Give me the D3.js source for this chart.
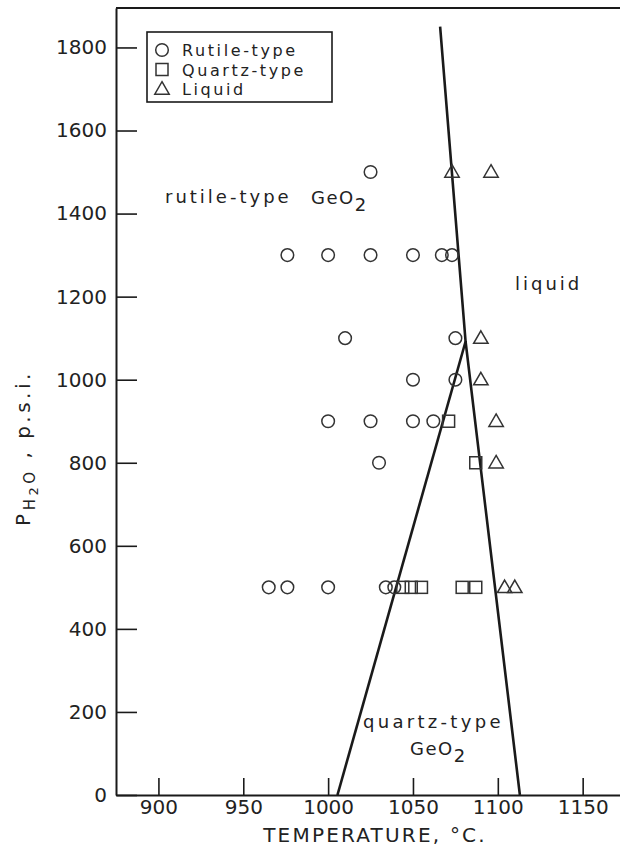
<!DOCTYPE html>
<html>
<head>
<meta charset="utf-8">
<script src="https://cdn.jsdelivr.net/npm/d3@7"></script>
<style>
  body { margin: 0; background: #fff; }
  text { font-family: "DejaVu Sans", sans-serif; fill: #222; }
</style>
</head>
<body>
<svg id="chart"></svg>
<script>
const rutileType = [
  [1025, 1500],
  [976, 1300], [1000, 1300], [1025, 1300], [1050, 1300], [1067, 1300], [1073, 1300],
  [1010, 1100], [1075, 1100],
  [1050, 1000], [1075, 1000],
  [1000, 900], [1025, 900], [1050, 900], [1062, 900],
  [1030, 800],
  [965, 500], [976, 500], [1000, 500], [1034, 500], [1039, 500]
];
const quartzType = [
  [1071, 900],
  [1087, 800],
  [1044, 500], [1049, 500], [1055, 500], [1079, 500], [1087, 500]
];
const liquid = [
  [1073, 1500], [1096, 1500],
  [1090, 1100],
  [1090, 1000],
  [1099, 900],
  [1099, 800],
  [1104, 500], [1110, 500]
];

// phase boundaries
const liquidusLine = [[1113, 0], [1081, 1092], [1066, 1850]];
const quartzRutileLine = [[1005.5, 0], [1081, 1092]];

const xTicks = [900, 950, 1000, 1050, 1100, 1150];
const yTicks = [0, 200, 400, 600, 800, 1000, 1200, 1400, 1600, 1800];
const legendLabels = ["Rutile-type", "Quartz-type", "Liquid"];

const width = 620;
const height = 848;
const margin = { top: 8, left: 116, bottom: 53 };

const svg = d3.select("#chart").attr("width", width).attr("height", height);

const xScale = d3.scaleLinear()
  .domain([875, 1172])
  .range([margin.left, width]);

const yScale = d3.scaleLinear()
  .domain([0, 1895])
  .range([height - margin.bottom, margin.top]);

const ink = "#1a1a1a";

// x axis (ticks pointing inward)
const xAxis = svg.append("g")
  .attr("transform", `translate(0, ${yScale(0)})`)
  .call(d3.axisBottom(xScale).tickValues(xTicks).tickFormat(d3.format("d"))
    .tickSize(-17).tickSizeOuter(0).tickPadding(5));

// y axis
const yAxis = svg.append("g")
  .attr("transform", `translate(${margin.left}, 0)`)
  .call(d3.axisLeft(yScale).tickValues(yTicks).tickFormat(d3.format("d"))
    .tickSize(-21).tickSizeOuter(0).tickPadding(9));

[xAxis, yAxis].forEach((g) => {
  g.select(".domain").attr("stroke", ink).attr("stroke-width", 2);
  g.selectAll(".tick line").attr("stroke", ink).attr("stroke-width", 1.6);
  g.selectAll(".tick text")
    .attr("font-family", "DejaVu Sans, sans-serif")
    .attr("font-size", 20)
    .attr("fill", "#222");
});

// top frame
svg.append("line")
  .attr("x1", margin.left).attr("x2", width)
  .attr("y1", yScale(1895)).attr("y2", yScale(1895))
  .attr("stroke", ink).attr("stroke-width", 2);

// boundaries
const line = d3.line().x((d) => xScale(d[0])).y((d) => yScale(d[1]));
svg.selectAll(".boundary")
  .data([liquidusLine, quartzRutileLine])
  .join("path")
  .attr("class", "boundary")
  .attr("d", line)
  .attr("fill", "none")
  .attr("stroke", ink)
  .attr("stroke-width", 2.6);

// markers
const markerStyle = (sel) => sel.attr("fill", "none").attr("stroke", "#333").attr("stroke-width", 1.5);

const circleAt = (g, cx, cy) => g.append("circle").attr("cx", cx).attr("cy", cy).attr("r", 6.3).call(markerStyle);
const squareAt = (g, cx, cy) => g.append("rect").attr("x", cx - 6).attr("y", cy - 6).attr("width", 12).attr("height", 12).call(markerStyle);
const triangleAt = (g, cx, cy) => g.append("path")
  .attr("d", d3.symbol(d3.symbolTriangle, 90)())
  .attr("transform", `translate(${cx}, ${cy + 1})`)
  .call(markerStyle);

const marks = svg.append("g");
rutileType.forEach((d) => circleAt(marks, xScale(d[0]), yScale(d[1])));
quartzType.forEach((d) => squareAt(marks, xScale(d[0]), yScale(d[1])));
liquid.forEach((d) => triangleAt(marks, xScale(d[0]), yScale(d[1])));

// legend
const legend = svg.append("g");
legend.append("rect")
  .attr("x", 147).attr("y", 32).attr("width", 185).attr("height", 70)
  .attr("fill", "#fff").attr("stroke", ink).attr("stroke-width", 1.6);
const legendDraw = [circleAt, squareAt, triangleAt];
legendLabels.forEach((label, i) => {
  const cy = 50 + i * 19.5;
  legendDraw[i](legend, 162, cy);
  legend.append("text")
    .attr("x", 182).attr("y", cy + 6)
    .attr("font-size", 16)
    .attr("letter-spacing", 2.6)
    .text(label);
});

// region annotations
const addGeO2 = (x0, yBase) => {
  const t = svg.append("text").attr("x", x0).attr("y", yBase).attr("font-size", 18).attr("letter-spacing", 1.5);
  t.append("tspan").text("GeO");
  t.append("tspan").attr("dy", 7).text("2");
};
svg.append("text")
  .attr("x", 165).attr("y", 203)
  .attr("font-size", 18).attr("letter-spacing", 3)
  .text("rutile-type");
addGeO2(311, 204);

svg.append("text")
  .attr("x", 515).attr("y", 290)
  .attr("font-size", 18).attr("letter-spacing", 3)
  .text("liquid");

svg.append("text")
  .attr("x", 363).attr("y", 728)
  .attr("font-size", 18).attr("letter-spacing", 3.3)
  .text("quartz-type");
addGeO2(410, 755);

// axis titles
svg.append("text")
  .attr("x", 375).attr("y", 842)
  .attr("text-anchor", "middle")
  .attr("font-size", 20).attr("letter-spacing", 2.2)
  .text("TEMPERATURE, °C.");

const yTitle = svg.append("text")
  .attr("transform", "translate(30, 448) rotate(-90)")
  .attr("text-anchor", "middle")
  .attr("font-size", 20).attr("letter-spacing", 3.5);
yTitle.append("tspan").text("P");
yTitle.append("tspan").attr("font-size", 15).attr("dy", 5).text("H");
yTitle.append("tspan").attr("font-size", 13).attr("dy", 3).text("2");
yTitle.append("tspan").attr("font-size", 15).attr("dy", -3).text("O");
yTitle.append("tspan").attr("dy", -5).text(" , p.s.i.");
</script>
</body>
</html>
